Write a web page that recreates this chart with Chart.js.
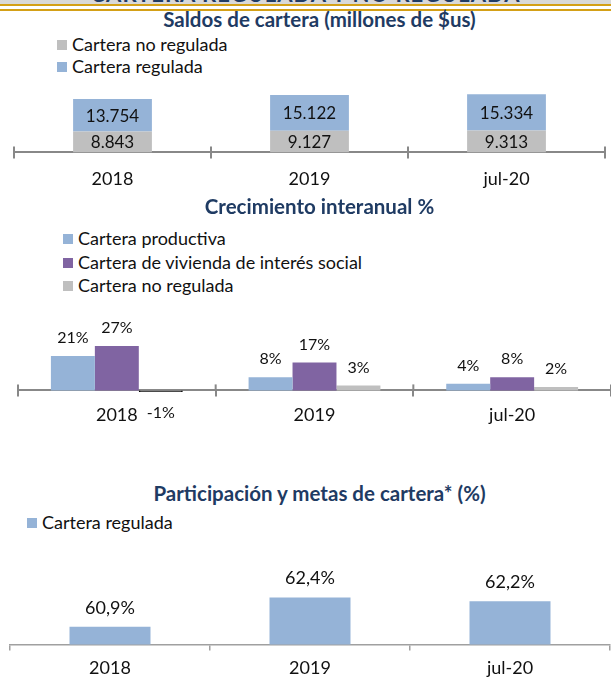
<!DOCTYPE html>
<html>
<head>
<meta charset="utf-8">
<script src="https://cdn.jsdelivr.net/npm/chart.js@4"></script>
<style>
  html, body { margin:0; padding:0; background:#fff; }
  #page { position:relative; width:611px; height:686px; overflow:hidden; background:#fff; font-family:Lato, "Open Sans", sans-serif; }
  .abs { position:absolute; }
  .title { position:absolute; left:14px; width:611px; text-align:center; font-weight:bold; font-size:20.5px; line-height:24px; color:#1f3b63; white-space:nowrap; }
  .leg { position:absolute; font-size:18px; line-height:22px; color:#111; white-space:nowrap; }
  .leg span.sq { display:inline-block; width:10px; height:10px; margin-right:5px; vertical-align:1px; }
  canvas { position:absolute; left:0; display:block; }
</style>
</head>
<body>
<div id="page">
  <div class="abs" style="left:0;top:0;width:611px;height:4px;background:#d9d9d9;overflow:hidden;">
    <div class="abs" style="left:0;top:-16px;width:611px;text-align:center;font-weight:bold;font-size:22px;line-height:20px;letter-spacing:1px;color:#1f3b63;white-space:nowrap;">CARTERA REGULADA Y NO REGULADA</div>
  </div>
  <div class="abs" style="left:0;top:4px;width:611px;height:2px;background:#d4a017;"></div>
  <div class="abs" style="left:0;top:9px;width:611px;height:2px;background:#d4a017;"></div>

  <div class="title" style="top:7px;">Saldos de cartera (millones de $us)</div>
  <div id="leg1"></div>
  <canvas id="c1" width="611" height="120" style="top:80px;width:611px;height:120px;"></canvas>

  <div class="title" style="top:194px;">Crecimiento interanual %</div>
  <div id="leg2"></div>
  <canvas id="c2" width="611" height="140" style="top:300px;width:611px;height:140px;"></canvas>

  <div class="title" style="top:481px;">Participación y metas de cartera* (%)</div>
  <div id="leg3"></div>
  <canvas id="c3" width="611" height="141" style="top:545px;width:611px;height:141px;"></canvas>
</div>
<script>
// ---------- DATA ----------
const categories = ['2018', '2019', 'jul-20'];

// Chart 1: Saldos de cartera (millones de $us)
const saldoNoRegulada = [8843, 9127, 9313];
const saldoRegulada = [13754, 15122, 15334];

// Chart 2: Crecimiento interanual %
const crecProductiva = [21, 8, 4];
const crecVivienda = [27, 17, 8];
const crecNoRegulada = [-1, 3, 2];

// Chart 3: Participación cartera regulada (%)
const partRegulada = [60.9, 62.4, 62.2];

// ---------- STYLE ----------
const BLUE = '#95b3d7', GREY = '#bfbfbf', PURPLE = '#8064a2', AXIS = '#888888';
const FONT = 'Lato, "Open Sans", sans-serif';

function legend(id, items, left, tops) {
  const el = document.getElementById(id);
  items.forEach((it, i) => {
    const d = document.createElement('div');
    d.className = 'leg';
    d.style.left = left + 'px';
    d.style.top = (tops[i] - 11) + 'px';
    d.innerHTML = '<span class="sq" style="background:' + it[1] + '"></span>' + it[0];
    el.appendChild(d);
  });
}
legend('leg1', [['Cartera no regulada', GREY], ['Cartera regulada', BLUE]], 57, [44, 66]);
legend('leg2', [['Cartera productiva', BLUE], ['Cartera de vivienda de interés social', PURPLE], ['Cartera no regulada', GREY]], 63, [238, 262, 285]);
legend('leg3', [['Cartera regulada', BLUE]], 27, [522]);

const fmtMiles = v => String(v).replace(/\B(?=(\d{3})+(?!\d))/g, '.');
const fmtPct = v => v + '%';
const fmtPctComa = v => v.toFixed(1).replace('.', ',') + '%';

const valueLabels = {
  id: 'valueLabels',
  afterDatasetsDraw(chart, args, opts) {
    const ctx = chart.ctx;
    ctx.save();
    ctx.font = (opts.size || 16) + 'px ' + FONT;
    ctx.fillStyle = '#111';
    ctx.textAlign = 'center';
    ctx.textBaseline = 'middle';
    chart.data.datasets.forEach((ds, di) => {
      const meta = chart.getDatasetMeta(di);
      meta.data.forEach((el, i) => {
        const v = ds.data[i];
        let y;
        if (opts.inside) y = (el.y + el.base) / 2 + 1;
        else if (v >= 0) y = el.y - opts.offset;
        else y = el.y + opts.negOffset;
        ctx.fillText(opts.format(v), el.x, y);
      });
    });
    ctx.restore();
  }
};

const tickUp = {
  id: 'tickUp',
  beforeDatasetsDraw(chart, args, opts) {
    if (!opts.len) return;
    const xs = chart.scales.x;
    const n = chart.data.labels.length;
    const y0 = xs.top;
    const ctx = chart.ctx;
    ctx.save();
    ctx.strokeStyle = opts.color;
    ctx.lineWidth = opts.width;
    for (let i = 0; i <= n; i++) {
      const x = xs.left + i * xs.width / n;
      ctx.beginPath();
      ctx.moveTo(x, y0);
      ctx.lineTo(x, y0 - opts.len);
      ctx.stroke();
    }
    ctx.restore();
  }
};

function xAxis(stacked, color, width, pad) {
  return {
    stacked: stacked,
    offset: true,
    grid: { display: true, drawOnChartArea: false, offset: true, tickLength: 6, color: color, lineWidth: width },
    border: { display: true, color: color, width: width },
    ticks: { color: '#111', font: { family: FONT, size: 18 }, padding: pad, maxRotation: 0 }
  };
}

const common = {
  responsive: false,
  maintainAspectRatio: false,
  devicePixelRatio: 1,
  animation: false,
  events: [],
  plugins: { legend: { display: false }, title: { display: false }, tooltip: { enabled: false } }
};

new Chart(document.getElementById('c1'), {
  type: 'bar',
  data: {
    labels: categories,
    datasets: [
      { label: 'Cartera no regulada', data: saldoNoRegulada, backgroundColor: GREY, categoryPercentage: 1, barPercentage: 0.4 },
      { label: 'Cartera regulada', data: saldoRegulada, backgroundColor: BLUE, categoryPercentage: 1, barPercentage: 0.4 }
    ]
  },
  options: Object.assign({}, common, {
    layout: { padding: { left: 14, right: 6, top: 0, bottom: 0 } },
    scales: {
      x: xAxis(true, AXIS, 2, 10),
      y: { stacked: true, display: false, min: 0, max: 30640 }
    },
    plugins: Object.assign({}, common.plugins, {
      valueLabels: { inside: true, format: fmtMiles, size: 17 },
      tickUp: { len: 6, color: AXIS, width: 2 }
    })
  }),
  plugins: [valueLabels, tickUp]
});

new Chart(document.getElementById('c2'), {
  type: 'bar',
  data: {
    labels: categories,
    datasets: [
      { label: 'Cartera productiva', data: crecProductiva, backgroundColor: BLUE },
      { label: 'Cartera de vivienda de interés social', data: crecVivienda, backgroundColor: PURPLE },
      { label: 'Cartera no regulada', data: crecNoRegulada,
        backgroundColor: c => (c.raw < 0 ? '#6e6e6e' : GREY),
        borderColor: '#000',
        borderWidth: c => (c.raw < 0 ? 1.5 : 0) }
    ].map(d => Object.assign(d, { categoryPercentage: 0.667, barPercentage: 1, clip: false }))
  },
  options: Object.assign({}, common, {
    layout: { padding: { left: 18, right: 0, top: 0, bottom: 6 } },
    scales: {
      x: xAxis(false, AXIS, 2, 8),
      y: { display: false, min: 0, max: 55 }
    },
    plugins: Object.assign({}, common.plugins, {
      valueLabels: { inside: false, offset: 18, negOffset: 21, format: fmtPct, size: 16 },
      tickUp: { len: 6, color: AXIS, width: 2 }
    })
  }),
  plugins: [valueLabels, tickUp]
});

new Chart(document.getElementById('c3'), {
  type: 'bar',
  data: {
    labels: categories,
    datasets: [
      { label: 'Cartera regulada', data: partRegulada, backgroundColor: BLUE, categoryPercentage: 1, barPercentage: 0.405 }
    ]
  },
  options: Object.assign({}, common, {
    layout: { padding: { left: 10, right: 1, top: 25, bottom: 0 } },
    scales: {
      x: xAxis(false, '#a0a0a0', 1.5, 7),
      y: { display: false, min: 60, max: 63.8 }
    },
    plugins: Object.assign({}, common.plugins, {
      valueLabels: { inside: false, offset: 19, negOffset: 20, format: fmtPctComa, size: 18 },
      tickUp: { len: 0 }
    })
  }),
  plugins: [valueLabels, tickUp]
});
</script>
</body>
</html>
